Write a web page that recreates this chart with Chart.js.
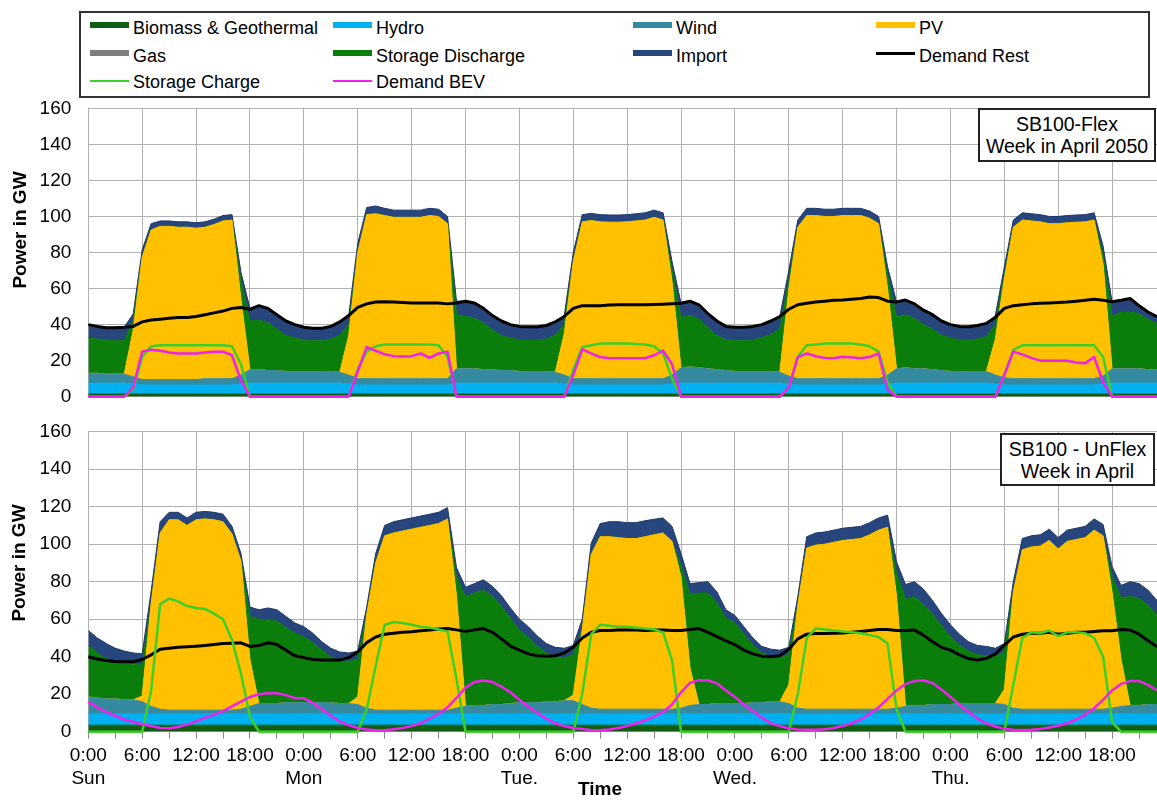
<!DOCTYPE html>
<html>
<head>
<meta charset="utf-8">
<title>SB100 week in April – power balance</title>
<script src="https://cdn.jsdelivr.net/npm/chart.js@4.4.1/dist/chart.umd.min.js"></script>
<style>
  html, body { margin: 0; padding: 0; background: #fff; }
  body { width: 1157px; height: 801px; position: relative; overflow: hidden;
         font-family: "Liberation Sans", Arial, sans-serif; color: #000; }
  canvas { position: absolute; left: 0; }
  #legendBox { position: absolute; left: 79px; top: 11px; width: 1071px; height: 87px;
               border: 2px solid #333; box-sizing: border-box; }
  .lgText { position: absolute; font-size: 18px; line-height: 20px; white-space: nowrap; }
  .lgSwatch { position: absolute; }
  .yTitle { position: absolute; font-weight: bold; font-size: 19px; line-height: 20px; white-space: nowrap;
            transform: translate(-50%, -50%) rotate(-90deg); }
  .xTitle { position: absolute; font-weight: bold; font-size: 19px; line-height: 20px;
            transform: translate(-50%, -50%); }
  .note { position: absolute; background: #fff; border: 2px solid #222; box-sizing: border-box;
          text-align: center; font-size: 19.5px; line-height: 22px; white-space: nowrap; }
</style>
</head>
<body>
<div id="legendBox"></div>
<canvas id="flexChart" width="1157" height="310" style="top:95px;width:1157px;height:310px"></canvas>
<canvas id="unflexChart" width="1157" height="396" style="top:405px;width:1157px;height:396px"></canvas>
<div class="yTitle" style="left:20px;top:230px">Power in GW</div>
<div class="yTitle" style="left:19px;top:563px">Power in GW</div>
<div class="xTitle" style="left:600px;top:789px">Time</div>
<div class="note" style="left:978px;top:108px;width:178px;height:54px;padding-top:3px">SB100-Flex<br>Week in April 2050</div>
<div class="note" style="left:1000px;top:433px;width:155px;height:53px;padding-top:3px">SB100 - UnFlex<br>Week in April</div>

<script>
// ---------------------------------------------------------------
// Hourly values in GW, Sunday 0:00 to Thursday 23:00 (one row per day)
// ---------------------------------------------------------------
const hours = Array.from({ length: 120 }, (_, i) => i);
const dayLabels = ['Sun', 'Mon', 'Tue.', 'Wed.', 'Thu.'];
const timeLabels = ['0:00', '6:00', '12:00', '18:00'];

// ---- SB100-Flex ----
const bioFlex = [
  1.5,1.5,1.5,1.5,1.5,1.5,1.5,1.5,1.5,1.5,1.5,1.5,1.5,1.5,1.5,1.5,1.5,1.5,1.5,1.5,1.5,1.5,1.5,1.5,
  1.5,1.5,1.5,1.5,1.5,1.5,1.5,1.5,1.5,1.5,1.5,1.5,1.5,1.5,1.5,1.5,1.5,1.5,1.5,1.5,1.5,1.5,1.5,1.5,
  1.5,1.5,1.5,1.5,1.5,1.5,1.5,1.5,1.5,1.5,1.5,1.5,1.5,1.5,1.5,1.5,1.5,1.5,1.5,1.5,1.5,1.5,1.5,1.5,
  1.5,1.5,1.5,1.5,1.5,1.5,1.5,1.5,1.5,1.5,1.5,1.5,1.5,1.5,1.5,1.5,1.5,1.5,1.5,1.5,1.5,1.5,1.5,1.5,
  1.5,1.5,1.5,1.5,1.5,1.5,1.5,1.5,1.5,1.5,1.5,1.5,1.5,1.5,1.5,1.5,1.5,1.5,1.5,1.5,1.5,1.5,1.5,1.5
];
const hydroFlex = [
  6,6,6,6,6,5.5,5,5,5,5,5,5,5,5,5,5,5,5.5,6,6,6,6,6,6,
  6,6,6,6,6,5.5,5,5,5,5,5,5,5,5,5,5,5,6,6,6,6,6,6,6,
  6,6,6,6,6,5.5,5,5,5,5,5,5,5,5,5,5,5,5.5,6,6,6,6,6,6,
  6,6,6,6,6,6,5.5,5,5,5,5,5,5,5,5,5,5,5.5,6,6,6,6,6,6,
  6,6,6,6,6,5.5,5,5,5,5,5,5,5,5,5,5,5,5.5,6,6,6,6,6,6
];
const windFlex = [
  5.5,5.5,5,5,5,4,3,3,3,3,3,3,3,3.5,3.5,3.5,3.5,5,7.5,7.5,7,7,6.5,6.5,
  6.5,6.5,6.5,6.5,6,5,3.5,3.5,3.5,3.5,3.5,3.5,3.5,3.5,3.5,3.5,3.5,8,8,8,7.5,7.5,7,7,
  6.5,6.5,6.5,6.5,6,5,3.5,3.5,3.5,3.5,3.5,3.5,3.5,3.5,3.5,3.5,3.5,5,8.5,9,8.5,8,7.5,7,
  6.5,6.5,6.5,6.5,6.5,6,4.5,3.5,3.5,3.5,3.5,3.5,3.5,3.5,3.5,3.5,3.5,5,8,8.5,8,8,7.5,7,
  6.5,6.5,6.5,6.5,6.5,5,4,3.5,3.5,3.5,3.5,3.5,3.5,3.5,3.5,3.5,3.5,4.5,8,8,8,8,7.5,7.5
];
const pvFlex = [
  0,0,0,0,0,26,68,83,85,85,84.5,84.5,84,84,85.5,87.5,88,42,0,0,0,0,0,0,
  0,0,0,0,0,22,70,91,91.5,90.5,89.5,89.5,89.5,89.5,90.5,90,86,0,0,0,0,0,0,0,
  0,0,0,0,0,23,65,87,87.7,87,86.8,86.8,87,87.5,88,89.5,88,52,0,0,0,0,0,0,
  0,0,0,0,0,0,48,84,90.5,90.5,90,90,90.5,90.5,90.5,89,86,48,0,0,0,0,0,0,
  0,0,0,0,0,20,55,84,88,87.5,87,86,86,86.5,86.8,87,88,62,0,0,0,0,0,0
];
const dischargeFlex = [
  19.5,19,19,18.5,18.5,5,0,0,0,0,0,0,0,0,0,0,0,10,27,27.5,26.5,23,20,18.5,
  17.5,17,17,18,20.5,6,0,0,0,0,0,0,0,0,0,0,0,30,29,28,26,22,19.5,18,
  17.5,17.5,17.5,18,20.5,5,0,0,0,0,0,0,0,0,0,0,0,6,28,28.5,27,22.5,19,17,
  17,17,17.5,18.5,20.5,24,5,0,0,0,0,0,0,0,0,0,0,7,29,29.5,28,24.5,22.5,19.5,
  18.5,17.5,17.3,18,19.2,8,2,0,0,0,0,0,0,0,0,0,0,5,29,31.5,31.5,30.5,28,25.5
];
const importFlex = [
  7.5,7,7,7.5,7.5,4,4,3.5,3,3,3,3,3,3,3,3,3,5,7,8,8,8,8,7.5,
  7,7,7,7,7.5,5,5,4,4.3,4,4,4,4,4,4,4,4,7.5,8.5,8.5,8,8,8,7.5,
  7.5,7.3,7.3,7.5,7.5,5,5,4,4,4,4,4,4,4,4,4,4,5,7.8,8,8,8,8,7.5,
  7.5,7.5,7.5,7.5,7.5,7,5.5,4,4,4,4,4,4,4,4,4,4,5,8,8,8,8,8,8,
  7.5,7.5,7.5,7.5,7.5,5,4.5,4,4,4,4,4,4,4,4,4,4,5,8,6.5,7.5,4.5,4,4
];
const demandRestFlex = [
  40,39,38.3,38.3,38.5,39,41.5,42.5,43,43.5,44,44,44.5,45.5,46.5,47.5,49,49.5,48.5,50.5,49,45.5,42,40,
  38.5,38,38,39,41.5,45,49.5,51.5,52.5,52.7,52.5,52.2,52,52,52,52,51.5,52,53,52,49,45,42,40,
  39,38.8,38.8,39.5,41.5,44.5,49,50.5,50.5,50.5,50.9,51,51,51,51,51.2,51.3,51.5,51.8,53,51,46,42,39,
  38.5,38.5,39,40,42,44.5,48.5,51,51.8,52.5,53,53.5,53.6,54,54.5,55.3,55,53,52.5,53.6,51.5,48,45.5,42,
  40,39,38.8,39.5,40.7,44,49,50.5,51,51.5,51.8,52,52.2,52.5,53,53.5,54,53.5,52.7,53.5,54.5,50.5,47,44.4
];
const chargeFlex = [
  0,0,0,0,0,4,22,28,28.5,28.5,28.5,28.5,28.5,28.5,28.5,28.5,28,18,0,0,0,0,0,0,
  0,0,0,0,0,0,15,25,28,29,29,29,29,29,29,28.5,22,0,0,0,0,0,0,0,
  0,0,0,0,0,0,15,27.5,28.5,29.5,29.5,29.5,29.5,29.3,29,28,24,10,0,0,0,0,0,0,
  0,0,0,0,0,0,5,22,28.5,29,29.5,29.5,29.5,29.5,29,28,25,8,0,0,0,0,0,0,
  0,0,0,0,0,0,12,26,28.5,28.5,28.5,28.5,28.5,28.5,28.5,28.5,28.5,22,0,0,0,0,0,0
];
const bevFlex = [
  0,0,0,0,0,5,25,26,25.5,24.5,24,24,24,24.5,25,25,23,9,0,0,0,0,0,0,
  0,0,0,0,0,0,14,27.5,25.5,23.5,22.5,22.3,22.5,24,21.5,24,25,0,0,0,0,0,0,0,
  0,0,0,0,0,0,12,26.3,24,22,21.3,21.3,21.3,21.3,21.3,23,25.5,18,0,0,0,0,0,0,
  0,0,0,0,0,0,5,22,24,22.5,21.5,21.3,22.2,21.8,21.3,22,24,4,0,0,0,0,0,0,
  0,0,0,0,0,0,12,25,23.5,21.5,20,20,20,20,19,18.5,22,8,0,0,0,0,0,0
];

// ---- SB100 - UnFlex ----
const bioUnflex = [
  3.5,3.5,3.5,3.5,3.5,3.5,3.5,3.5,3.5,3.5,3.5,3.5,3.5,3.5,3.5,3.5,3.5,3.5,3.5,3.5,3.5,3.5,3.5,3.5,
  3.5,3.5,3.5,3.5,3.5,3.5,3.5,3.5,3.5,3.5,3.5,3.5,3.5,3.5,3.5,3.5,3.5,3.5,3.5,3.5,3.5,3.5,3.5,3.5,
  3.5,3.5,3.5,3.5,3.5,3.5,3.5,3.5,3.5,3.5,3.5,3.5,3.5,3.5,3.5,3.5,3.5,3.5,3.5,3.5,3.5,3.5,3.5,3.5,
  3.5,3.5,3.5,3.5,3.5,3.5,3.5,3.5,3.5,3.5,3.5,3.5,3.5,3.5,3.5,3.5,3.5,3.5,3.5,3.5,3.5,3.5,3.5,3.5,
  3.5,3.5,3.5,3.5,3.5,3.5,3.5,3.5,3.5,3.5,3.5,3.5,3.5,3.5,3.5,3.5,3.5,3.5,3.5,3.5,3.5,3.5,3.5,3.5
];
const hydroUnflex = [
  6,6,6,6,6,6,6,6,6,6,6,6,6,6,6,6,6,6,6,6,6,6,6,6,
  6,6,6,6,6,6,6,6,6,6,6,6,6,6,6,6,6,6,6,6,6,6,6,6,
  6,6,6,6,6,6,6,6,6,6,6,6,6,6,6,6,6,6,6,6,6,6,6,6,
  6,6,6,6,6,6,6,6,6,6,6,6,6,6,6,6,6,6,6,6,6,6,6,6,
  6,6,6,6,6,6,6,6,6,6,6,6,6,6,6,6,6,6,6,6,6,6,6,6
];
const windUnflex = [
  9,8.5,8,8,7.5,7.5,6.5,4,2.5,2,2,2,2,2,2,2,2,2.5,4,5.5,5.5,5.5,6,6,
  6,6,6,6,5.5,5.5,5,3,2,2,2,2,2,2,2,2,2,3,4,4.5,4.5,5,5,5.5,
  6,6,6,6.5,6.5,7,7,5,3,2.5,2.5,2.5,2.5,2.5,2.5,2.5,2.5,2.5,3,4.5,5,5,5.5,5.5,
  5.5,5.5,6,6,6.5,6.5,5.5,3,2.5,2.5,2.5,2.5,2.5,2.5,2.5,2.5,2.5,2.5,3,4,4.5,4.5,5,5,
  5,5.5,5.5,5.5,5.5,5.5,5,3,2.5,2.5,2.5,2.5,2.5,2.5,2.5,2.5,2.5,2.5,3,4,4.5,4.5,5,5
];
const pvUnflex = [
  0,0,0,0,0,0,3,55,94,101.5,101.5,98.5,101.5,102,101.5,100.5,94,79,25,0,0,0,0,0,
  0,0,0,0,0,0,4,50,78.5,93,94.5,95.5,96.5,97.5,98.5,99.5,102,60,0,0,0,0,0,0,
  0,0,0,0,0,0,3,40,82,92,92,91.5,91,91,92,93,94,89.5,70,20,0,0,0,0,
  0,0,0,0,0,0,10,55,86,87.5,88,89,90,90.5,91,93,95.5,97,60,0,0,0,0,0,
  0,0,0,0,0,0,8,62,85,86.5,87,90,85.5,89.5,90.5,91.5,95.5,92.5,62,25,0,0,0,0
];
const dischargeUnflex = [
  27.5,24,21.5,19.5,19.5,19,16.5,0,0,0,0,0,0,0,0,0,0,0,23,45,44.5,44,40,37,
  35,32,28,24.5,23,22.5,20,0,0,0,0,0,0,0,0,0,0,10,58.5,60,61.5,57.5,52.5,45.5,
  38.5,35,30,26,24,23,21.5,0,0,0,0,0,0,0,0,0,0,0,6,39,59.5,59.5,53.5,45.5,
  43,37,30.5,26.5,24,23.5,16,0,0,0,0,0,0,0,0,0,0,0,12,57,58,54,48,42,
  36,31,28,26,25.5,25,20,0,0,0,0,0,0,0,0,0,0,0,8,33,58,57,53,47.5
];
const importUnflex = [
  8,8,8,7.5,6.5,6,6,6.5,6,4,4,4,4,4,4,4,4,4,5,5,6.5,6,6,5.5,
  5.5,5,4.5,4.5,4.5,4.5,4.5,4,5,5.5,6,6,6,6,6,6,6,5,5,5,5.5,5.5,5.5,5.5,
  6,5.5,5.5,5,5,5,5,5.5,6,7,8,8.5,8.5,8.5,8.5,8.3,8,8,6.5,6,5.5,6,6,4.5,
  4,4,4,3.5,4,4,4,4.5,6,6.5,6.5,6.5,6.5,6.5,6.5,6.5,6.5,6.5,6,8,8,8,7.5,6.5,
  6.5,6,5,5,5,4.5,4.5,5.5,6,6,6,6,6,6,6,6,6,6,5.5,6.5,8,8,8,8
];
const demandRestUnflex = [
  40,38.8,38,37.5,37.3,37.3,38.5,41,44,44.5,45,45.3,45.6,46,46.5,47,47.2,47.4,45.5,46,47.4,46.5,43.5,40.5,
  39.5,38.5,38.2,38.2,38.2,39.5,42.5,47.5,50.5,52,52.5,53,53.3,53.8,54.3,54.8,55,54.3,53.5,54.3,55,53,49.5,45.7,
  43.5,41.5,40.5,40.2,40.5,42,45,50,53,54,54,54.2,54.2,54.2,54,54.2,54.2,54,54,54.5,55,53,50.7,48.5,
  46.5,43.5,41.5,40.3,40,40.5,44,49.5,52,52.4,52.4,52.5,52.6,53,53.5,54,54.5,54.5,54,54,54.2,51.5,48,45,
  43.5,41,39,38.2,39,41.5,46,50.5,52,52.5,52.5,53,52,52.5,53,53,53.5,53.8,53.8,54.5,54.2,52,48.5,45.3
];
const chargeUnflex = [
  0,0,0,0,0,0,0,22,68,71,69.5,67,66,65.5,63,60,49,31,8,0,0,0,0,0,
  0,0,0,0,0,0,0,12,35,57,58.5,58,57,56,55.5,54.5,53.5,28,0,0,0,0,0,0,
  0,0,0,0,0,0,0,20,52,57,56.5,56,56,55.5,55,54.5,53,38,0,0,0,0,0,0,
  0,0,0,0,0,0,0,20,50,55,54.5,54,53.5,53,52.5,51.5,50.5,47,12,0,0,0,0,0,
  0,0,0,0,0,0,0,25,50,53,52.5,54,51,53,53,52.5,50,40,5,0,0,0,0,0
];
const bevUnflex = [
  16,13,10.5,8.5,6.5,5.3,4,3,2,1.8,2.5,3.8,5.5,7.5,9,11,13.5,16,18.5,20,20.5,20.5,19.5,18,
  17.8,15.5,12,8.5,5.5,3.5,2,1.2,0.8,0.8,1.3,2,3,4.5,7,9.5,13,18,23.5,26.5,27.3,26.5,24,21,
  17,13.5,10,7,4.5,3,2,1.5,0.8,0.8,1.2,2,3,4.5,6,8,10.5,14.5,21,26,27.5,27.3,25.8,22,
  18.5,14.5,11,7.5,4.5,3,1.8,1.2,1,1,1.3,2,3,4.5,6.5,9.5,13,17.5,22,25.5,27,27.3,26,22.5,
  18.5,14.5,10.5,7,4.5,2.8,1.5,1,0.9,1,1.5,2.2,3.2,4.5,6.5,9,12.5,17,22,25.5,27,27,25,22
];

// ---------------------------------------------------------------
// Styling
// ---------------------------------------------------------------
const COLORS = {
  bio: '#0f5e12', hydro: '#00b0f0', wind: '#368aa0', pv: '#ffc000', gas: '#7f7f7f',
  discharge: '#0a7d0a', import: '#27467e', demandRest: '#000000', charge: '#3ccf2a', bev: '#ee22ee'
};
const GRID = '#b1b1b1';
const FONT = '"Liberation Sans", Arial, sans-serif';
Chart.defaults.font.family = FONT;
Chart.defaults.color = '#000';

const legendEntries = [
  { label: 'Biomass & Geothermal', color: COLORS.bio, kind: 'area' },
  { label: 'Hydro', color: COLORS.hydro, kind: 'area' },
  { label: 'Wind', color: COLORS.wind, kind: 'area' },
  { label: 'PV', color: COLORS.pv, kind: 'area' },
  { label: 'Gas', color: COLORS.gas, kind: 'area' },
  { label: 'Storage Discharge', color: COLORS.discharge, kind: 'area' },
  { label: 'Import', color: COLORS.import, kind: 'area' },
  { label: 'Demand Rest', color: COLORS.demandRest, kind: 'line' },
  { label: 'Storage Charge', color: COLORS.charge, kind: 'line' },
  { label: 'Demand BEV', color: COLORS.bev, kind: 'line' }
];

// legend grid: 4 columns, 3 rows
const legendColX = [90, 333, 633, 876];
const legendSwatchY = [25, 53.3, 81];
const legendTextTop = [18, 46, 71.5];
legendEntries.forEach((e, i) => {
  const col = i % 4, row = Math.floor(i / 4);
  const sw = document.createElement('div');
  sw.className = 'lgSwatch';
  const h = e.kind === 'area' ? 6 : 2.5;
  sw.style.cssText = `left:${legendColX[col]}px;top:${legendSwatchY[row] - h / 2}px;width:39px;height:${h}px;background:${e.color}`;
  document.body.appendChild(sw);
  const tx = document.createElement('div');
  tx.className = 'lgText';
  tx.style.left = (legendColX[col] + 43) + 'px';
  tx.style.top = legendTextTop[row] + 'px';
  tx.textContent = e.label;
  document.body.appendChild(tx);
});

// ---------------------------------------------------------------
// Chart builders
// ---------------------------------------------------------------
function areaSet(label, data, color, first) {
  return {
    label, data, stack: 'supply', fill: first ? 'origin' : '-1',
    backgroundColor: color, borderColor: color, borderWidth: 1,
    pointRadius: 0, tension: 0, order: 5
  };
}
function lineSet(label, data, color, width, order) {
  return {
    label, data, stack: label, fill: false, borderColor: color, borderWidth: width,
    pointRadius: 0, tension: 0, order, clip: false, borderJoinStyle: 'round'
  };
}

function buildPanel(canvasId, s, withLabels) {
  const stepHours = withLabels ? 3 : 6;
  const tickHours = [];
  for (let h = 0; h <= 117; h += stepHours) tickHours.push(h);

  const xScale = {
    type: 'linear', min: 0, max: 119,
    afterBuildTicks: axis => { axis.ticks = tickHours.map(v => ({ value: v })); },
    grid: {
      color: ctx => (ctx.tick && ctx.tick.value % 6 === 0) ? GRID : 'rgba(0,0,0,0)',
      lineWidth: 1,
      drawTicks: withLabels,
      tickLength: 7,
      tickColor: '#8a8a8a'
    },
    border: { display: false },
    ticks: withLabels ? {
      autoSkip: false, maxRotation: 0, minRotation: 0, padding: 6,
      font: { size: 19, lineHeight: 1.18 }, color: '#000',
      callback: v => {
        if (v % 6 !== 0) return '';
        const t = timeLabels[(v % 24) / 6];
        return v % 24 === 0 ? [t, dayLabels[v / 24]] : t;
      }
    } : { display: false },
    afterFit: axis => {
      axis.height = withLabels ? 69.3 : 8.3;
      axis.paddingLeft = 0; axis.paddingRight = 0;
    }
  };

  const yScale = {
    min: 0, max: 160, stacked: true,
    ticks: { stepSize: 20, padding: 17, font: { size: 19 }, color: '#000' },
    grid: { color: GRID, lineWidth: 1, drawTicks: false },
    border: { display: false },
    afterFit: axis => {
      axis.width = 88.3;
      // the plot area is placed by the layout padding alone
      axis.paddingTop = 0; axis.paddingBottom = 0;
    }
  };

  return new Chart(document.getElementById(canvasId), {
    type: 'line',
    data: {
      labels: hours,
      datasets: [
        areaSet('Biomass & Geothermal', s.bio, COLORS.bio, true),
        areaSet('Hydro', s.hydro, COLORS.hydro),
        areaSet('Wind', s.wind, COLORS.wind),
        areaSet('PV', s.pv, COLORS.pv),
        areaSet('Storage Discharge', s.discharge, COLORS.discharge),
        Object.assign(areaSet('Import', s.imp, COLORS.import), { borderColor: '#1d3766' }),
        lineSet('Demand Rest', s.demand, COLORS.demandRest, 3, 3),
        lineSet('Storage Charge', s.charge, COLORS.charge, 2.5, 2),
        lineSet('Demand BEV', s.bev, COLORS.bev, 2.5, 1)
      ]
    },
    options: {
      responsive: false, animation: false, events: [],
      layout: { autoPadding: false, padding: { left: 0, right: 0, top: withLabels ? 26.7 : 13.3, bottom: 0 } },
      plugins: { legend: { display: false }, tooltip: { enabled: false } },
      scales: { x: xScale, y: yScale }
    }
  });
}

buildPanel('flexChart', {
  bio: bioFlex, hydro: hydroFlex, wind: windFlex, pv: pvFlex, discharge: dischargeFlex,
  imp: importFlex, demand: demandRestFlex, charge: chargeFlex, bev: bevFlex
}, false);

buildPanel('unflexChart', {
  bio: bioUnflex, hydro: hydroUnflex, wind: windUnflex, pv: pvUnflex, discharge: dischargeUnflex,
  imp: importUnflex, demand: demandRestUnflex, charge: chargeUnflex, bev: bevUnflex
}, true);
</script>
</body>
</html>
